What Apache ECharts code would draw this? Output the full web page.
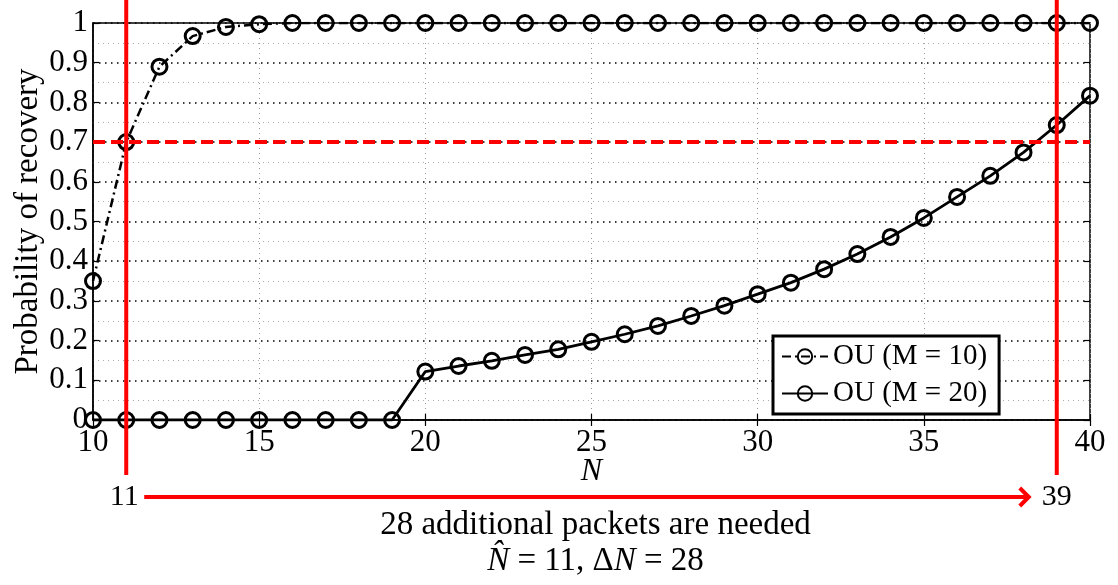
<!DOCTYPE html>
<html>
<head>
<meta charset="utf-8">
<script src="https://cdn.jsdelivr.net/npm/echarts@6/dist/echarts.min.js"></script>
<style>
  html, body { margin: 0; padding: 0; background: #fff; }
  #chart { width: 1118px; height: 585px; }
</style>
</head>
<body>
<div id="chart"></div>
<script>
// Number of received packets N
const nValues = [10, 11, 12, 13, 14, 15, 16, 17, 18, 19, 20, 21, 22, 23, 24, 25,
                 26, 27, 28, 29, 30, 31, 32, 33, 34, 35, 36, 37, 38, 39, 40];
// Probability of recovery, OU with M = 10
const ouM10 = [0.35, 0.70, 0.89, 0.967, 0.99, 0.997, 1, 1, 1, 1, 1, 1, 1, 1, 1, 1,
               1, 1, 1, 1, 1, 1, 1, 1, 1, 1, 1, 1, 1, 1, 1];
// Probability of recovery, OU with M = 20
const ouM20 = [0, 0, 0, 0, 0, 0, 0, 0, 0, 0, 0.122, 0.136, 0.149, 0.164, 0.178, 0.197,
               0.216, 0.237, 0.262, 0.288, 0.317, 0.346, 0.380, 0.418, 0.461, 0.509,
               0.562, 0.615, 0.674, 0.743, 0.817];
const seriesNames = ['OU (M = 10)', 'OU (M = 20)'];
// Recovery threshold and the N values where each curve crosses it
const threshold = 0.7;
const nHat = 11;
const nNeeded = 39;
const xTicks = { min: 10, max: 40, step: 5 };
const yTicks = { min: 0, max: 1, step: 0.1 };

const FONT = '"Liberation Serif", "Times New Roman", serif';
const RED = '#ff0000';

const chart = echarts.init(document.getElementById('chart'), null, { renderer: 'canvas' });

const pairs = arr => nValues.map((n, i) => [n, arr[i]]);

const markerStyle = {
  color: 'rgba(0,0,0,0)',
  borderColor: '#000',
  borderWidth: 3
};

const option = {
  animation: false,
  backgroundColor: '#fff',
  grid: {
    left: 93, right: 28, top: 23, bottom: 165,
    containLabel: false, outerBoundsMode: 'none',
    show: true, borderColor: '#000', borderWidth: 1.5, backgroundColor: 'transparent'
  },
  xAxis: [{
    type: 'value', min: xTicks.min, max: xTicks.max, interval: xTicks.step,
    name: 'N', nameLocation: 'middle', nameGap: 36, nameMoveOverlap: false,
    nameTextStyle: { fontFamily: FONT, fontSize: 32, fontStyle: 'italic', color: '#000' },
    axisLine: { show: true, onZero: false, lineStyle: { color: '#000', width: 1.5 } },
    axisTick: { show: true, inside: true, length: 6, lineStyle: { color: '#000', width: 1.2 } },
    axisLabel: { fontFamily: FONT, fontSize: 31, color: '#000', margin: 7 },
    splitLine: { show: true, lineStyle: { color: '#999', width: 1, type: [1, 4] } }
  }, {
    type: 'value', position: 'top', min: xTicks.min, max: xTicks.max, interval: xTicks.step,
    axisLine: { show: false },
    axisTick: { show: true, inside: true, length: 6, lineStyle: { color: '#000', width: 1.2 } },
    axisLabel: { show: false }, splitLine: { show: false }
  }],
  yAxis: [{
    type: 'value', min: yTicks.min, max: yTicks.max, interval: yTicks.step,
    name: 'Probability of recovery', nameLocation: 'middle', nameGap: 48, nameMoveOverlap: false,
    nameTextStyle: { fontFamily: FONT, fontSize: 33, color: '#000' },
    axisLine: { show: true, lineStyle: { color: '#000', width: 1.5 } },
    axisTick: { show: true, inside: true, length: 6, lineStyle: { color: '#000', width: 1.2 } },
    axisLabel: { fontFamily: FONT, fontSize: 31, color: '#000', margin: 5 },
    splitLine: { show: true, lineStyle: { color: '#000', width: 1.5, type: [1.5, 4.5] } },
    minorTick: { show: false, splitNumber: 2 },
    minorSplitLine: { show: true, lineStyle: { color: '#aaa', width: 1, type: [1, 4] } }
  }, {
    type: 'value', position: 'right', min: yTicks.min, max: yTicks.max, interval: yTicks.step,
    axisLine: { show: false },
    axisTick: { show: true, inside: true, length: 6, lineStyle: { color: '#000', width: 1.2 } },
    axisLabel: { show: false }, splitLine: { show: false }
  }],
  legend: {
    left: 773, top: 336, orient: 'vertical',
    data: seriesNames,
    itemWidth: 46, itemHeight: 18, itemGap: 8,
    padding: [6, 12, 6, 8],
    backgroundColor: '#fff', borderColor: '#000', borderWidth: 3,
    textStyle: { fontFamily: FONT, fontSize: 29, color: '#000' }
  },
  series: [{
    name: seriesNames[0], type: 'line', data: pairs(ouM10),
    symbol: 'circle', symbolSize: 15, itemStyle: markerStyle,
    lineStyle: { color: '#000', width: 2.5, type: [9, 4, 2, 4] }, z: 3
  }, {
    name: seriesNames[1], type: 'line', data: pairs(ouM20),
    symbol: 'circle', symbolSize: 15, itemStyle: markerStyle,
    lineStyle: { color: '#000', width: 2.8, type: 'solid' }, z: 3
  }, {
    // recovery threshold across the full N range
    name: 'threshold', type: 'line',
    data: [[xTicks.min, threshold], [xTicks.max, threshold]],
    symbol: 'none', silent: true,
    lineStyle: { color: RED, width: 4, type: [12, 6] }, z: 4
  }]
};

chart.setOption(option);

// Annotations tied to the axis scale: the two crossing markers,
// the arrow between them and the explanatory text below the axis.
function drawAnnotations() {
  const xa = chart.convertToPixel({ xAxisIndex: 0 }, nHat);
  const xb = chart.convertToPixel({ xAxisIndex: 0 }, nNeeded);
  const arrowY = 497;
  const lineBottom = 475;
  const tip = xb - 28;
  const midX = chart.convertToPixel({ xAxisIndex: 0 }, (xTicks.min + xTicks.max) / 2);
  chart.setOption({
    graphic: [
      { type: 'line', z: 50, shape: { x1: xa, y1: 0, x2: xa, y2: lineBottom },
        style: { stroke: RED, lineWidth: 4 } },
      { type: 'line', z: 50, shape: { x1: xb, y1: 0, x2: xb, y2: lineBottom },
        style: { stroke: RED, lineWidth: 4 } },
      { type: 'line', z: 50, shape: { x1: xa + 18, y1: arrowY, x2: tip, y2: arrowY },
        style: { stroke: RED, lineWidth: 4 } },
      { type: 'polyline', z: 50,
        shape: { points: [[tip - 9, arrowY - 9], [tip, arrowY], [tip - 9, arrowY + 9]] },
        style: { stroke: RED, lineWidth: 4, fill: null, lineJoin: 'miter' } },
      { type: 'text', z: 50, x: xa - 2, y: arrowY,
        style: { text: String(nHat), font: '30px ' + FONT, fill: '#000',
                 align: 'center', verticalAlign: 'middle' } },
      { type: 'text', z: 50, x: xb, y: arrowY,
        style: { text: String(nNeeded), font: '30px ' + FONT, fill: '#000',
                 align: 'center', verticalAlign: 'middle' } },
      { type: 'text', z: 50, x: midX + 4, y: 525,
        style: { text: (nNeeded - nHat) + ' additional packets are needed',
                 font: '33px ' + FONT, fill: '#000', align: 'center', verticalAlign: 'middle' } },
      { type: 'text', z: 50, x: midX + 4, y: 561,
        style: {
          text: '{i|N\u0302} = ' + nHat + ', \u0394{i|N} = ' + (nNeeded - nHat),
          font: '33px ' + FONT, fill: '#000', align: 'center', verticalAlign: 'middle',
          rich: { i: { fontFamily: FONT, fontSize: 33, fontStyle: 'italic', fill: '#000' } }
        } }
    ]
  });
}
drawAnnotations();
</script>
</body>
</html>
